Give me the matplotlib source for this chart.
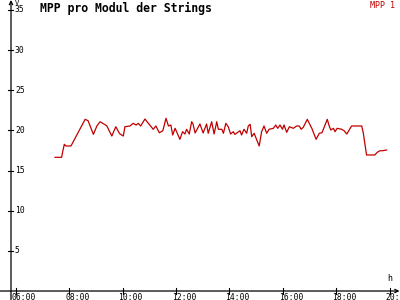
import matplotlib
matplotlib.use("Agg")
import matplotlib.pyplot as plt

# MPP per module, time in decimal hours, values in V
hours = [7.47, 7.72, 7.76, 7.82, 7.88, 8.07, 8.60, 8.71, 8.91, 9.04, 9.16, 9.41, 9.60, 9.75, 9.87,
         9.91, 10.03, 10.09, 10.28, 10.40, 10.51, 10.59, 10.68, 10.84, 10.97, 11.15, 11.25, 11.38,
         11.51, 11.63, 11.72, 11.81, 11.88, 11.97, 12.15, 12.25, 12.34, 12.40, 12.50, 12.59, 12.64,
         12.72, 12.90, 13.02, 13.15, 13.21, 13.34, 13.43, 13.53, 13.59, 13.72, 13.78, 13.87, 13.96,
         14.05, 14.15, 14.21, 14.40, 14.46, 14.55, 14.65, 14.71, 14.78, 14.84, 14.93, 15.03, 15.12,
         15.21, 15.30, 15.40, 15.49, 15.65, 15.74, 15.81, 15.90, 15.99, 16.05, 16.15, 16.25, 16.40,
         16.52, 16.62, 16.69, 16.77, 16.92, 17.09, 17.25, 17.37, 17.47, 17.67, 17.73, 17.80, 17.90,
         17.96, 18.04, 18.21, 18.30, 18.40, 18.58, 18.96, 19.02, 19.14, 19.45, 19.54, 19.64, 19.74,
         19.89]
mpp = [16.65, 16.65, 17.35, 18.27, 18.06, 18.06, 21.38, 21.21, 19.51, 20.55, 21.08, 20.58, 19.30,
       20.46, 19.71, 19.55, 19.30, 20.46, 20.55, 20.88, 20.67, 20.88, 20.55, 21.42, 20.88, 20.14,
       20.55, 19.71, 19.96, 21.51, 20.55, 20.67, 19.43, 20.26, 18.89, 19.84, 19.55, 20.14, 19.55,
       21.08, 20.80, 19.68, 20.80, 19.68, 20.80, 19.64, 21.08, 19.55, 21.08, 20.14, 20.14, 19.64,
       20.88, 20.46, 19.55, 19.84, 19.51, 19.96, 19.43, 20.14, 19.64, 20.55, 20.76, 19.22, 19.64,
       18.80, 18.06, 19.84, 20.55, 19.64, 20.14, 20.26, 20.67, 20.26, 20.67, 20.14, 20.67, 19.76,
       20.46, 20.26, 20.55, 20.55, 20.14, 20.39, 21.38, 20.26, 18.89, 19.64, 19.71, 21.38, 20.67,
       20.05, 20.26, 19.84, 20.26, 20.14, 19.96, 19.55, 20.55, 20.55, 19.64, 16.94, 16.94, 17.27,
       17.47, 17.47, 17.56]

x_ticks = [6, 8, 10, 12, 14, 16, 18, 20]
x_labels = ["06:00", "08:00", "10:00", "12:00", "14:00", "16:00", "18:00", "20:00"]
y_ticks = [5, 10, 15, 20, 25, 30, 35]

red = "#c00000"
mono = "DejaVu Sans Mono"

fig = plt.figure(figsize=(4, 3), dpi=100)
ax = fig.add_axes([0, 0, 1, 1])
x0, x1 = 5.412, 20.393
y0, y1 = -1.12, 36.24
ax.set_xlim(x0, x1)
ax.set_ylim(y0, y1)
ax.axis("off")

px = (x1 - x0) / 400  # one pixel in hours
py = (y1 - y0) / 300  # one pixel in volts
yax = 6 - 4.7 * px

# axes with arrows
ax.annotate("", xy=(yax, y1), xytext=(yax, y0),
            arrowprops=dict(arrowstyle="->", lw=0.9, color="black", mutation_scale=6,
                            shrinkA=0, shrinkB=0))
ax.annotate("", xy=(x1 - 0.5 * px, 0), xytext=(x0, 0),
            arrowprops=dict(arrowstyle="->", lw=0.9, color="black", mutation_scale=6,
                            shrinkA=0, shrinkB=0))

for v in y_ticks:
    ax.plot([yax - 2.5 * px, yax + 2.5 * px], [v, v], color="black", lw=0.8, clip_on=False)
    ax.text(yax + 4 * px, v, str(v), fontsize=5.8, family=mono, va="center", ha="left")

for t, lab in zip(x_ticks, x_labels):
    ax.plot([t, t], [-3 * py, 3 * py], color="black", lw=0.8, clip_on=False)
    ax.text(t - 4 * px, -2 * py, lab, fontsize=5.8, family=mono, va="top", ha="left")

ax.text(yax + 4 * px, y1 - 0.5 * py, "V", fontsize=5, family=mono, va="top", ha="left")
ax.text(x1 - 13 * px, 8 * py, "h", fontsize=6, family=mono, va="bottom", ha="left")

ax.plot(hours, mpp, color=red, lw=0.9)

fig.text(40 / 400, 1 - 2 / 300, "MPP pro Modul der Strings", fontsize=8.3, family=mono,
         weight="bold", va="top", ha="left")
fig.text(395 / 400, 1 - 1 / 300, "MPP 1", fontsize=6, family=mono, color=red,
         va="top", ha="right")

fig.savefig("out.png", dpi=100)
